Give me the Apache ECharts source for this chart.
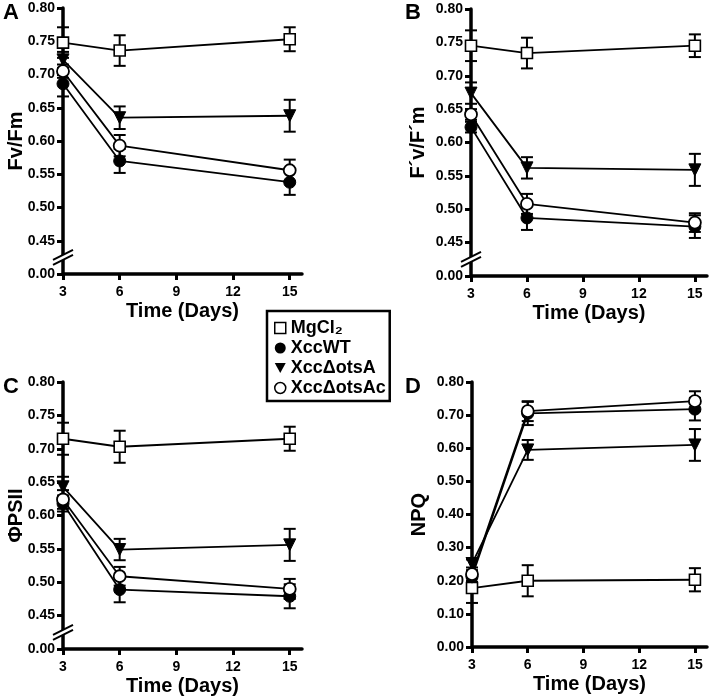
<!DOCTYPE html>
<html>
<head>
<meta charset="utf-8">
<script src="https://cdn.jsdelivr.net/npm/echarts@6/dist/echarts.min.js"></script>
<style>
  html, body { margin: 0; padding: 0; background: #fff; }
  #chart { width: 711px; height: 699px; }
</style>
</head>
<body>
<div id="chart"></div>
<script>
// days sampled, and x tick labels
const days = [3, 6, 15];
const xTicks = [3, 6, 9, 12, 15];
const seriesNames = ['MgCl₂', 'XccWT', 'XccΔotsA', 'XccΔotsAc'];

// A: Fv/Fm  (rows follow seriesNames)
const fvfmMean = [[0.748, 0.736, 0.753], [0.686, 0.570, 0.538], [0.722, 0.635, 0.638], [0.705, 0.593, 0.556]];
const fvfmErr  = [[0.023, 0.023, 0.018], [0.019, 0.018, 0.019], [0.012, 0.017, 0.024], [0.010, 0.016, 0.016]];

// B: F'v/F'm
const fvfmPrimeMean = [[0.745, 0.734, 0.745], [0.623, 0.487, 0.474], [0.674, 0.562, 0.559], [0.642, 0.508, 0.480]];
const fvfmPrimeErr  = [[0.023, 0.023, 0.017], [0.008, 0.018, 0.017], [0.016, 0.016, 0.024], [0.008, 0.015, 0.014]];

// C: PhiPSII
const phiMean = [[0.715, 0.703, 0.715], [0.618, 0.489, 0.479], [0.643, 0.549, 0.556], [0.624, 0.509, 0.490]];
const phiErr  = [[0.024, 0.024, 0.018], [0.012, 0.019, 0.018], [0.015, 0.016, 0.024], [0.014, 0.014, 0.015]];

// D: NPQ
const npqMean = [[0.178, 0.200, 0.203], [0.212, 0.705, 0.718], [0.252, 0.595, 0.610], [0.220, 0.712, 0.742]];
const npqErr  = [[0.045, 0.047, 0.035], [0.015, 0.035, 0.034], [0.012, 0.030, 0.048], [0.012, 0.030, 0.030]];

const FONT = 'Liberation Sans, Arial, sans-serif';

// symbol per group: open square, filled circle, filled down triangle, open circle
const symbolDefs = [
    { symbol: 'rect', size: 11, fill: '#fff', border: 1.6 },
    { symbol: 'circle', size: 12, fill: '#000', border: 1 },
    { symbol: 'triangle', size: 12, fill: '#000', border: 1, rotate: 180 },
    { symbol: 'circle', size: 12, fill: '#fff', border: 1.8 }
];

const panels = [
    { mean: fvfmMean, err: fvfmErr, name: 'Fv/Fm', broken: true, grid: { left: 63, top: 8, width: 239, height: 266 }, nameGap: 37, letter: 'A', lx: 3, ly: 2 },
    { mean: fvfmPrimeMean, err: fvfmPrimeErr, name: 'F´v/F´m', broken: true, grid: { left: 471, top: 9, width: 236, height: 267 }, nameGap: 43, letter: 'B', lx: 405, ly: 2 },
    { mean: phiMean, err: phiErr, name: 'ΦPSII', broken: true, grid: { left: 63, top: 382, width: 239, height: 267 }, nameGap: 37, letter: 'C', lx: 3, ly: 376 },
    { mean: npqMean, err: npqErr, name: 'NPQ', broken: false, grid: { left: 472, top: 382, width: 235, height: 265 }, nameGap: 43, letter: 'D', lx: 405, ly: 376 }
];

const axisLine = { lineStyle: { color: '#000', width: 3.5 } };
const axisTick = { inside: false, length: 6, lineStyle: { color: '#000', width: 3 } };

function errorBars(gi, means, errs) {
    return {
        type: 'custom',
        xAxisIndex: gi,
        yAxisIndex: gi,
        z: 2,
        silent: true,
        data: days.map((d, i) => [d, means[i] - errs[i], means[i] + errs[i]]),
        renderItem(params, api) {
            const lo = api.coord([api.value(0), api.value(1)]);
            const hi = api.coord([api.value(0), api.value(2)]);
            const w = 6;
            const st = { stroke: '#000', lineWidth: 2 };
            return {
                type: 'group',
                children: [
                    { type: 'line', shape: { x1: hi[0], y1: hi[1], x2: lo[0], y2: lo[1] }, style: st },
                    { type: 'line', shape: { x1: hi[0] - w, y1: hi[1], x2: hi[0] + w, y2: hi[1] }, style: st },
                    { type: 'line', shape: { x1: lo[0] - w, y1: lo[1], x2: lo[0] + w, y2: lo[1] }, style: st }
                ]
            };
        }
    };
}

const grids = [], xAxes = [], yAxes = [], series = [];
panels.forEach((p, gi) => {
    grids.push(Object.assign({ containLabel: false }, p.grid));
    xAxes.push({
        type: 'value', gridIndex: gi, min: 3, max: 15.65,
        name: 'Time (Days)', nameLocation: 'middle', nameGap: 27, nameMoveOverlap: false,
        nameTextStyle: { fontFamily: FONT, fontWeight: 'bold', fontSize: 20, color: '#000' },
        axisLine: axisLine,
        axisTick: Object.assign({ customValues: xTicks }, axisTick),
        axisLabel: { customValues: xTicks, margin: 11, fontFamily: FONT, fontWeight: 'bold', fontSize: 14, color: '#000' },
        splitLine: { show: false }
    });
    yAxes.push({
        type: 'value', gridIndex: gi,
        min: p.broken ? 0.40 : 0, max: 0.80, interval: p.broken ? 0.05 : 0.10,
        name: p.name, nameLocation: 'middle', nameGap: p.nameGap, nameRotate: 90, nameMoveOverlap: false,
        nameTextStyle: { fontFamily: FONT, fontWeight: 'bold', fontSize: 20, color: '#000' },
        axisLine: axisLine,
        axisTick: axisTick,
        axisLabel: {
            margin: 8, fontFamily: FONT, fontWeight: 'bold', fontSize: 14, color: '#000',
            // broken axis: the bottom position stands for 0.00
            formatter: v => (p.broken && v < 0.42) ? '0.00' : v.toFixed(2)
        },
        splitLine: { show: false }
    });
    seriesNames.forEach((nm, si) => {
        const s = symbolDefs[si];
        series.push({
            name: nm, type: 'line', xAxisIndex: gi, yAxisIndex: gi, z: 3,
            data: days.map((d, i) => [d, p.mean[si][i]]),
            symbol: s.symbol, symbolSize: s.size, symbolRotate: s.rotate || 0,
            showAllSymbol: true,
            lineStyle: { color: '#000', width: 1.8 },
            itemStyle: { color: s.fill, borderColor: '#000', borderWidth: s.border },
            emphasis: { disabled: true },
            animation: false
        });
        series.push(errorBars(gi, p.mean[si], p.err[si]));
    });
});

const chart = echarts.init(document.getElementById('chart'), null, { renderer: 'canvas' });
chart.setOption({
    animation: false,
    grid: grids,
    xAxis: xAxes,
    yAxis: yAxes,
    legend: {
        left: 267, top: 311, orient: 'vertical',
        padding: [8, 4, 4, 7], itemGap: 2, itemWidth: 11, itemHeight: 11,
        borderColor: '#000', borderWidth: 2.5, backgroundColor: '#fff',
        selectedMode: false,
        textStyle: { fontFamily: FONT, fontWeight: 'bold', fontSize: 18, color: '#000', lineHeight: 17 },
        data: [
            { name: seriesNames[0], icon: 'rect', itemStyle: { color: '#fff', borderColor: '#000', borderWidth: 1.5 } },
            { name: seriesNames[1], icon: 'circle', itemStyle: { color: '#000', borderColor: '#000', borderWidth: 0 } },
            { name: seriesNames[2], icon: 'path://M0,0 L10,0 L5,9 Z', itemStyle: { color: '#000', borderColor: '#000', borderWidth: 0 } },
            { name: seriesNames[3], icon: 'circle', itemStyle: { color: '#fff', borderColor: '#000', borderWidth: 1.5 } }
        ]
    },
    series: series
});

// panel letters and axis-break marks
const graphics = [];
panels.forEach((p, gi) => {
    graphics.push({
        type: 'text', left: p.lx, top: p.ly,
        style: { text: p.letter, font: 'bold 22px ' + FONT, fill: '#000' }
    });
    if (!p.broken) return;
    const c = chart.convertToPixel({ gridIndex: gi }, [3, 0.425]);
    const dx = 10, dy = 5, sep = 2.5;
    graphics.push({
        type: 'polygon', z: 100,
        shape: { points: [[c[0] - dx, c[1] + dy - sep], [c[0] + dx, c[1] - dy - sep], [c[0] + dx, c[1] - dy + sep], [c[0] - dx, c[1] + dy + sep]] },
        style: { fill: '#fff' }
    });
    [-sep, sep].forEach(o => {
        graphics.push({
            type: 'line', z: 101,
            shape: { x1: c[0] - dx, y1: c[1] + dy + o, x2: c[0] + dx, y2: c[1] - dy + o },
            style: { stroke: '#000', lineWidth: 2 }
        });
    });
});
chart.setOption({ graphic: graphics });
</script>
</body>
</html>
